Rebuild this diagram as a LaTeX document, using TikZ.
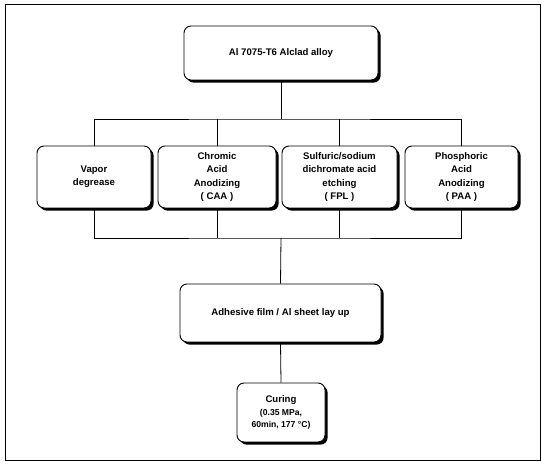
\documentclass[tikz,border=0pt]{standalone}
\usepackage{fontspec}
\setmainfont{Liberation Sans}
\usetikzlibrary{shadows}
\begin{document}
\begin{tikzpicture}[x=1pt,y=-1pt,
  procbox/.style={draw=black, line width=0.9pt, fill=white, rounded corners=7pt,
    align=center, inner sep=0pt,
    font=\fontsize{9.6}{13.3}\selectfont\bfseries,
    drop shadow={shadow xshift=2.6pt, shadow yshift=-2.6pt, fill=black, opacity=1}},
  link/.style={draw=black, line width=0.8pt}]
\useasboundingbox (0,0) rectangle (542,462);
\draw[line width=0.8pt] (5,4) rectangle (540,460);

\node[procbox, minimum width=194pt, minimum height=54pt] (top) at (281,53) {Al 7075-T6 Alclad alloy};

\node[procbox, minimum width=114pt, minimum height=62pt] (b1) at (94,177) {Vapor\\degrease};
\node[procbox, minimum width=118pt, minimum height=62pt] (b2) at (217,177) {Chromic\\Acid\\Anodizing\\( CAA )};
\node[procbox, minimum width=115pt, minimum height=62pt] (b3) at (339.5,177) {Sulfuric/sodium\\dichromate acid\\etching\\( FPL )};
\node[procbox, minimum width=113pt, minimum height=62pt] (b4) at (461.5,177) {Phosphoric\\Acid\\Anodizing\\( PAA )};

\node[procbox, minimum width=201pt, minimum height=58pt] (lay) at (280.5,313) {Adhesive film / Al sheet lay up};

\node[procbox, minimum width=88pt, minimum height=59pt] (cure) at (281,412.5)
  {Curing\\[-1pt]{\fontsize{8.6}{12}\selectfont (0.35 MPa,}\\[-1pt]{\fontsize{8.6}{12}\selectfont 60min, 177 °C)}};

\coordinate (j1) at (281,119);
\coordinate (j2) at (281,238);

\begin{scope}[on background layer/.try]
\end{scope}
\draw[link] (top.south) -- (j1);
\draw[link] (b1.north) |- (j1) -| (b4.north);
\draw[link] (b2.north) -- (b2.north |- j1);
\draw[link] (b3.north) -- (b3.north |- j1);
\draw[link] (b1.south) |- (j2) -| (b4.south);
\draw[link] (b2.south) -- (b2.south |- j2);
\draw[link] (b3.south) -- (b3.south |- j2);
\draw[link] (j2) -- (lay.north);
\draw[link] (lay.south) -- (cure.north);
\end{tikzpicture}
\end{document}
